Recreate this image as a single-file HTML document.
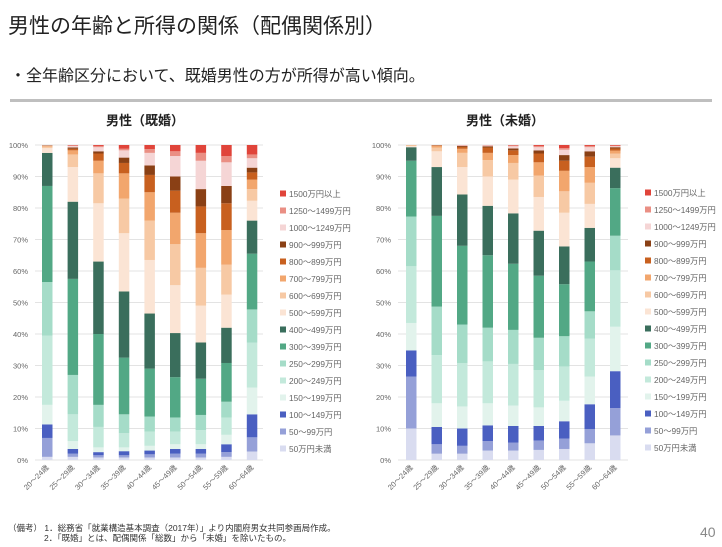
<!DOCTYPE html>
<html><head><meta charset="utf-8">
<style>
body{margin:0;width:722px;height:547px;background:#fff;font-family:"Liberation Sans","Noto Sans CJK JP",sans-serif;overflow:hidden;position:relative}
.t{position:absolute;white-space:nowrap}
</style></head>
<body>
<div class="t" style="left:8px;top:10px;font-size:21px;color:#222">男性の年齢と所得の関係（配偶関係別）</div>
<div class="t" style="left:10px;top:62px;font-size:16px;color:#222">・全年齢区分において、既婚男性の方が所得が高い傾向。</div>
<div style="position:absolute;left:10px;top:99px;width:702px;height:3px;background:#bfbfbf"></div>
<svg id="svg" width="722" height="547" style="position:absolute;left:0;top:0" font-family="Liberation Sans, Noto Sans CJK JP, sans-serif"></svg>
<div class="t" style="left:8px;top:522px;font-size:8.5px;color:#333">（備考） 1．総務省「就業構造基本調査（2017年）」より内閣府男女共同参画局作成。</div>
<div class="t" style="left:44px;top:532px;font-size:8.5px;color:#333">2．「既婚」とは、配偶関係「総数」から「未婚」を除いたもの。</div>
<div class="t" style="left:700px;top:524px;font-size:14px;color:#888">40</div>
<script>
const categories=["20～24歳","25～29歳","30～34歳","35～39歳","40～44歳","45～49歳","50～54歳","55～59歳","60～64歳"];
const seriesNames=["50万円未満","50～99万円","100～149万円","150～199万円","200～249万円","250～299万円","300～399万円","400～499万円","500～599万円","600～699万円","700～799万円","800～899万円","900～999万円","1000～1249万円","1250～1499万円","1500万円以上"];
const yTicks=["0%","10%","20%","30%","40%","50%","60%","70%","80%","90%","100%"];
const marriedValues=[
[1,6,4.3,6.2,22,17,30.5,10.5,1.5,0.5,0.2,0.1,0.1,0.1,0,0],
[1,1,1.5,2.5,8.5,12.5,30.5,24.5,11,4,1.3,0.5,0.4,0.5,0.2,0.1],
[0.8,0.7,1,1.5,6.5,7,22.5,23,18.5,9.5,4,2.3,0.7,1.3,0.4,0.3],
[0.8,0.7,1.3,1.2,4.5,6,18,21,18.5,11,8,3.3,1.7,2.3,0.5,1.2],
[0.8,1,1.2,1.5,4.5,4.8,15.2,17.5,17,12.5,9,5.5,3,4,1.2,1.3],
[0.8,1.2,1.5,1.5,4,4.5,12.8,14,15.2,13,10,7,4.5,6.5,1.5,2],
[0.8,1.2,1.5,1.5,4.5,4.8,11.5,11.5,11.7,12,11,8.5,5.5,9,2.5,2.5],
[1,1.5,2.5,3,5.5,5,12.3,11.2,10.5,9.5,11,8.5,5.5,7.5,2,3.5],
[2.7,4.5,7.3,8.5,14.3,10.5,17.7,10.5,6.3,3.7,3,2.3,1.5,3,1.2,3]];
const singleValues=[
[10,16.5,8.3,8.7,18,15.8,17.7,4.3,0.4,0.2,0.1,0,0,0,0,0],
[2,3,5.5,7.5,15.3,15.4,28.8,15.5,5,1.2,0.5,0.2,0.05,0.05,0,0],
[2,2.5,5.5,7,13.8,12.2,25,16.3,8.7,4.5,1.3,0.6,0.3,0.2,0.05,0.05],
[3,3,5,7,13.3,10.7,23,15.7,9.3,5.2,2.3,1.7,0.4,0.3,0.05,0.05],
[3,2.5,5.3,6.5,13.2,10.8,21,16,10.7,5.3,2.5,1.5,0.6,0.7,0.3,0.1],
[3.2,3,4.6,5.9,11.8,10.3,19.7,14.3,10.7,6.8,4.2,2.8,1,1,0.4,0.3],
[3.5,3.3,5.5,6.5,10.9,9.6,16.5,12,10.7,6.8,6.5,3.2,1.8,1.7,0.5,1],
[5.3,4.5,7.9,8.8,12,8.7,15.8,10.7,7.6,6.7,5,3.3,1.7,1.3,0.4,0.3],
[7.8,8.7,11.7,14.1,17.9,11,15.1,6.5,3,1.5,0.9,0.7,0.4,0.3,0.2,0.2]];
const colors=["#d9dcf0","#95a0d8","#4a5fc1","#e2f3ec","#c3e9db","#a5dcc8","#52a885","#3a6e5c","#fbe4d4","#f7c9a4","#f2a66d","#c8601f","#8a4015","#f5d5d5","#ea8f84","#e0443a"];
const NS="http://www.w3.org/2000/svg";
const svg=document.getElementById('svg');
function mk(t,a,p){const e=document.createElementNS(NS,t);for(const k in a)e.setAttribute(k,a[k]);(p||svg).appendChild(e);return e;}
function chart(o){
  const g=mk('g',{});
  
  
  const y=v=>o.y0-(o.y0-o.y1)*v/100;
  const x=i=>o.x0+o.step*i;
  const tt=mk('text',{x:o.titleX,y:125,'font-size':13,'font-weight':'bold','text-anchor':'middle',fill:'#222'},g);
  tt.textContent=o.title;
  
  
  yTicks.forEach((lab,i)=>{
    const v=i*10;
    const ln=mk('line',{x1:o.gx0,x2:o.gx1,y1:y(v),y2:y(v),stroke:'#e3e3e3','stroke-width':1},g);
    
    
    const t=mk('text',{x:o.gx0-7,y:y(v)+3,'font-size':7.5,'text-anchor':'end',fill:'#666'},g);
    t.textContent=lab;
    
    
  });
  o.data.forEach((row,i)=>{
    let c=0;
    row.forEach((v,s)=>{
      if(v<=0){c+=v;return;}
      const r=mk('rect',{x:x(i),y:y(c+v),width:o.bw,height:y(c)-y(c+v),fill:colors[s]},g);
      
      
      c+=v;
    });
    const cx=x(i)+o.bw/2+2, cy=o.y0+8;
    const t=mk('text',{x:cx,y:cy,'font-size':7.5,'text-anchor':'end',fill:'#666',transform:`rotate(-45 ${cx} ${cy})`},g);
    t.textContent=categories[i];
    
    
  });
  for(let s=seriesNames.length-1;s>=0;s--){
    const ly=o.ly0+(seriesNames.length-1-s)*17;
    const r=mk('rect',{x:o.lx,y:ly-3.5,width:6,height:6,fill:colors[s]},g);
    
    
    const t=mk('text',{x:o.lx+9,y:ly+3,'font-size':8.3,fill:'#666'},g);
    t.textContent=seriesNames[s];
    
    
  }
}
chart({name:'married-chart',title:'男性（既婚）',titleX:145,data:marriedValues,x0:42,step:25.6,bw:10.5,y0:460,y1:145,gx0:35,gx1:263,lx:280,ly0:194});
chart({name:'single-chart',title:'男性（未婚）',titleX:505,data:singleValues,x0:406,step:25.5,bw:10.5,y0:460,y1:145,gx0:398,gx1:628,lx:645,ly0:193});
</script>
</body></html>
